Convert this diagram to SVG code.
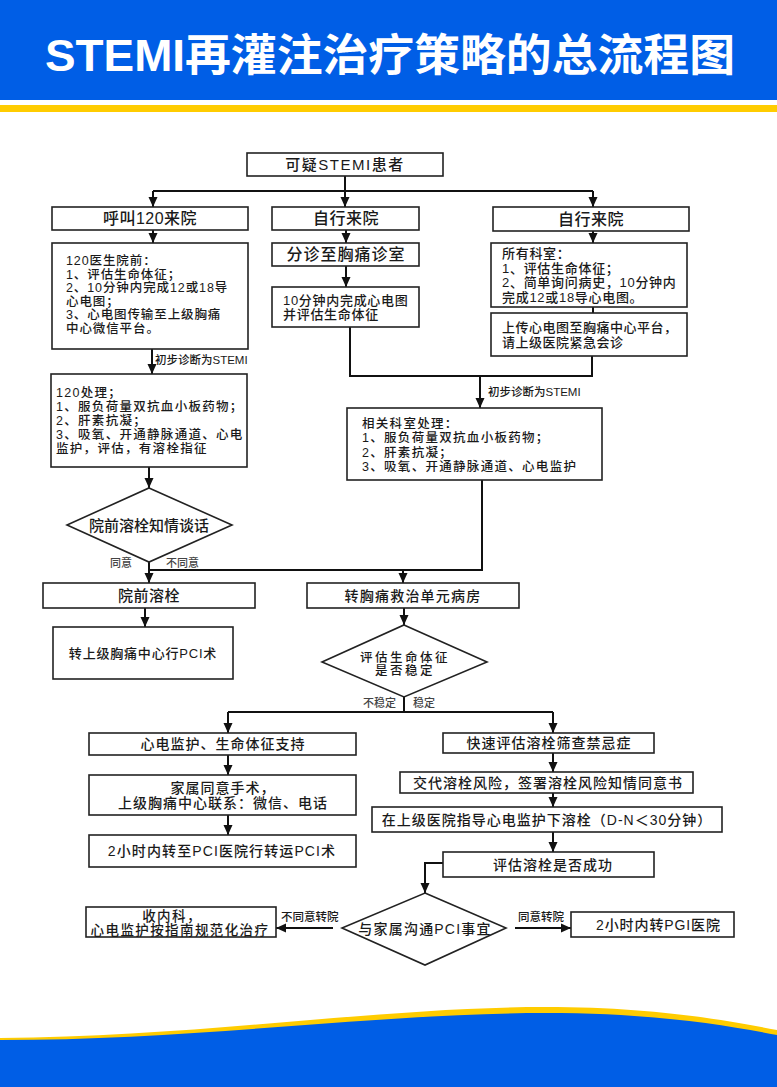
<svg xmlns="http://www.w3.org/2000/svg" width="777" height="1087" viewBox="0 0 777 1087">
<style>
.bx{fill:#fff;stroke:#222;stroke-width:1.6}
.ln{fill:none;stroke:#111;stroke-width:2}
.ar{fill:none;stroke:#111;stroke-width:2;marker-end:url(#ah)}
text{font-family:"Liberation Sans","Noto Sans CJK SC",sans-serif;fill:#1a1a1a;font-weight:500}
.c{text-anchor:middle}
.s14{font-size:14px;letter-spacing:1px}
.lbl{font-size:11.5px}
.gr{font-size:11px;fill:#444}
</style>
<defs>
<marker id="ah" markerUnits="userSpaceOnUse" markerWidth="10" markerHeight="10" refX="10" refY="5" orient="auto">
<path d="M0,0.5 L10,5 L0,9.5 Z" fill="#111"/>
</marker>
</defs>

<g id="header">
<rect x="0" y="0" width="777" height="100" fill="#005ee6"/>
<rect x="0" y="105" width="777" height="7" fill="#ffcc00"/>
<text x="45" y="71" font-size="44" font-weight="bold" style="fill:#fff;font-weight:bold" textLength="690" lengthAdjust="spacingAndGlyphs">STEMI再灌注治疗策略的总流程图</text>
</g>

<g id="footer">
<path d="M0,1038 C200,1037 380,1007 545,1007 C650,1007 720,1019 777,1030 L777,1087 L0,1087 Z" fill="#ffcc00"/>
<path d="M0,1040 C200,1040 380,1013 545,1013 C650,1013 720,1024 777,1035 L777,1087 L0,1087 Z" fill="#005ee6"/>
</g>

<g id="connectors">
<path class="ar" d="M345,176 V207"/>
<path class="ln" d="M153,191 H593"/>
<path class="ar" d="M153,191 V207"/>
<path class="ar" d="M593,191 V207"/>
<path class="ar" d="M153,230 V243"/>
<path class="ar" d="M346,230 V243"/>
<path class="ar" d="M593,231 V243"/>
<path class="ar" d="M346,266 V287"/>
<path class="ln" d="M593,307 V313"/>
<path class="ln" d="M350,327 V376 H592 V356"/>
<path class="ar" d="M480,376 V408"/>
<path class="ar" d="M152,349 V374"/>
<path class="ar" d="M149,467 V488"/>
<path class="ar" d="M149,562 V583"/>
<path class="ln" d="M149,570 H482 V480"/>
<path class="ar" d="M403,570 V583"/>
<path class="ar" d="M145,608 V627"/>
<path class="ar" d="M404,608 V625"/>
<path class="ln" d="M404,697 V712"/>
<path class="ln" d="M228,712 H553"/>
<path class="ar" d="M228,712 V733"/>
<path class="ar" d="M553,712 V733"/>
<path class="ar" d="M228,755 V775"/>
<path class="ar" d="M228,815 V835"/>
<path class="ar" d="M553,753 V772"/>
<path class="ar" d="M553,793 V807"/>
<path class="ar" d="M553,832 V852"/>
<path class="ar" d="M443,863 H425 V893"/>
<path class="ar" d="M333,928 H276"/>
<path class="ar" d="M515,928 H571"/>
<text class="lbl" x="155" y="364">初步诊断为STEMI</text>
<text class="lbl" x="488" y="396">初步诊断为STEMI</text>
<text class="gr" x="110" y="567">同意</text>
<text class="gr" x="166" y="567">不同意</text>
<text class="gr" x="363" y="707">不稳定</text>
<text class="gr" x="413" y="707">稳定</text>
<text class="lbl" x="281" y="921">不同意转院</text>
<text class="lbl" x="518" y="921">同意转院</text>
</g>

<g id="n-start">
<rect class="bx" x="247" y="153" width="196" height="23"/>
<text class="c" x="345" y="170" font-size="15" letter-spacing="1.5">可疑STEMI患者</text>
</g>

<g id="n-call120">
<rect class="bx" x="52" y="207" width="196" height="23"/>
<text class="c" x="150" y="224" font-size="16" letter-spacing="0.5">呼叫120来院</text>
</g>

<g id="n-self-mid">
<rect class="bx" x="272" y="207" width="147" height="23"/>
<text class="c" x="346" y="224" font-size="16" letter-spacing="0.5">自行来院</text>
</g>

<g id="n-self-right">
<rect class="bx" x="493" y="207" width="196" height="24"/>
<text class="c" x="591" y="224.5" font-size="16" letter-spacing="0.5">自行来院</text>
</g>

<g id="n-120pre">
<rect class="bx" x="52" y="243" width="196" height="106"/>
<g font-size="12.5" letter-spacing="0.9">
<text x="66" y="265">120医生院前：</text>
<text x="66" y="278.5">1、评估生命体征；</text>
<text x="66" y="292">2、10分钟内完成12或18导</text>
<text x="66" y="305.5">心电图；</text>
<text x="66" y="319">3、心电图传输至上级胸痛</text>
<text x="66" y="332.5">中心微信平台。</text>
</g>
</g>

<g id="n-triage">
<rect class="bx" x="272" y="243" width="147" height="23"/>
<text class="c" x="346" y="260" font-size="16" letter-spacing="1">分诊至胸痛诊室</text>
</g>

<g id="n-ecg10">
<rect class="bx" x="272" y="287" width="147" height="40"/>
<g font-size="13" letter-spacing="0.7">
<text x="283" y="305">10分钟内完成心电图</text>
<text x="283" y="319">并评估生命体征</text>
</g>
</g>

<g id="n-alldept">
<rect class="bx" x="491" y="243" width="196" height="64"/>
<g font-size="13" letter-spacing="0.7">
<text x="502" y="258">所有科室：</text>
<text x="502" y="272.5">1、评估生命体征；</text>
<text x="502" y="287">2、简单询问病史，10分钟内</text>
<text x="502" y="301.5">完成12或18导心电图。</text>
</g>
</g>

<g id="n-upload">
<rect class="bx" x="491" y="313" width="196" height="43"/>
<g font-size="13" letter-spacing="0.5">
<text x="502" y="332">上传心电图至胸痛中心平台，</text>
<text x="502" y="347">请上级医院紧急会诊</text>
</g>
</g>

<g id="n-120treat">
<rect class="bx" x="51" y="374" width="196" height="93"/>
<g font-size="12.5" letter-spacing="1.3">
<text x="56" y="396.5">120处理；</text>
<text x="56" y="410.5">1、服负荷量双抗血小板药物；</text>
<text x="56" y="424.5">2、肝素抗凝；</text>
<text x="56" y="438.5">3、吸氧、开通静脉通道、心电</text>
<text x="56" y="452.5">监护，评估，有溶栓指征</text>
</g>
</g>

<g id="n-depttreat">
<rect class="bx" x="347" y="408" width="255" height="72"/>
<g font-size="12.5" letter-spacing="1.3">
<text x="362" y="427.5">相关科室处理：</text>
<text x="362" y="442">1、服负荷量双抗血小板药物；</text>
<text x="362" y="456.5">2、肝素抗凝；</text>
<text x="362" y="471">3、吸氧、开通静脉通道、心电监护</text>
</g>
</g>

<g id="n-talk">
<path class="bx" d="M149,488 L232,525 L149,562 L67,525 Z"/>
<text class="c" x="149" y="530.5" font-size="15">院前溶栓知情谈话</text>
</g>

<g id="n-prelysis">
<rect class="bx" x="43" y="583" width="212" height="25"/>
<text class="c" x="149" y="601" font-size="15" letter-spacing="0.5">院前溶栓</text>
</g>

<g id="n-toPCI">
<rect class="bx" x="53" y="627" width="180" height="52"/>
<text class="c" x="143" y="658" font-size="13" letter-spacing="0.8">转上级胸痛中心行PCI术</text>
</g>

<g id="n-ward">
<rect class="bx" x="307" y="583" width="212" height="25"/>
<text class="c" x="413" y="601" font-size="14" letter-spacing="1.2">转胸痛救治单元病房</text>
</g>

<g id="n-stable">
<path class="bx" d="M404,625 L487,662 L404,697 L322,662 Z"/>
<g font-size="12.5" letter-spacing="2.5">
<text class="c" x="405" y="662">评估生命体征</text>
<text class="c" x="405" y="675">是否稳定</text>
</g>
</g>

<g id="n-monitor">
<rect class="bx" x="89" y="733" width="267" height="22"/>
<text class="c s14" x="223" y="749">心电监护、生命体征支持</text>
</g>

<g id="n-family">
<rect class="bx" x="89" y="775" width="267" height="40"/>
<text class="c s14" x="223" y="793">家属同意手术，</text>
<text class="c s14" x="223" y="807.5">上级胸痛中心联系：微信、电话</text>
</g>

<g id="n-2h">
<rect class="bx" x="89" y="835" width="267" height="32"/>
<text class="c" x="222" y="856" font-size="14" letter-spacing="1.1">2小时内转至PCI医院行转运PCI术</text>
</g>

<g id="n-screen">
<rect class="bx" x="443" y="733" width="211" height="20"/>
<text class="c s14" x="549" y="748">快速评估溶栓筛查禁忌症</text>
</g>

<g id="n-consent">
<rect class="bx" x="400" y="772" width="293" height="21"/>
<text class="c s14" x="548" y="787.5">交代溶栓风险，签署溶栓风险知情同意书</text>
</g>

<g id="n-lysis">
<rect class="bx" x="372" y="807" width="350" height="25"/>
<text class="c s14" x="547" y="824.5">在上级医院指导心电监护下溶栓（D-N＜30分钟）</text>
</g>

<g id="n-success">
<rect class="bx" x="443" y="852" width="211" height="25"/>
<text class="c s14" x="553" y="869.5">评估溶栓是否成功</text>
</g>

<g id="n-communicate">
<path class="bx" d="M425,893 L506,928 L425,965 L342,928 Z"/>
<text class="c" x="425" y="934" font-size="14" letter-spacing="1.2">与家属沟通PCI事宜</text>
</g>

<g id="n-internal">
<rect class="bx" x="86" y="907" width="190" height="30"/>
<text class="c" x="172" y="920.5" font-size="13.5" letter-spacing="1.4">收内科，</text>
<text class="c" x="180" y="934.5" font-size="13.5" letter-spacing="1.4">心电监护按指南规范化治疗</text>
</g>

<g id="n-2hPGI">
<rect class="bx" x="571" y="912" width="163" height="25"/>
<text x="596" y="930" font-size="14" letter-spacing="0.9">2小时内转PGI医院</text>
</g>
</svg>
